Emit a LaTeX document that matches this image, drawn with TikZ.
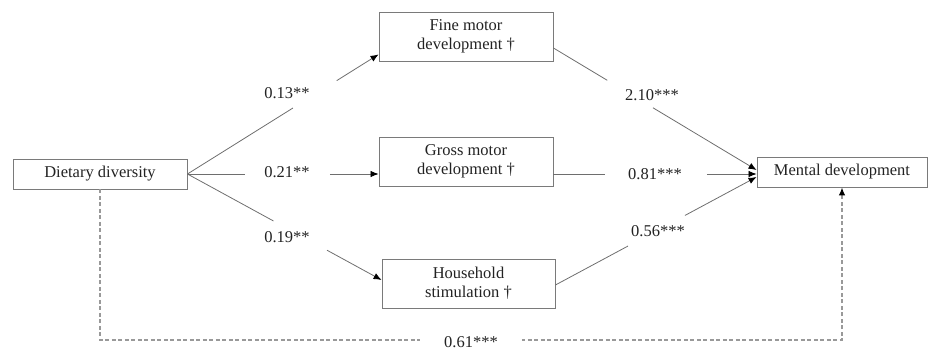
\documentclass[tikz,border=0pt]{standalone}
\usepackage{fontspec}
\setmainfont{Liberation Serif}
\usetikzlibrary{arrows.meta}
\definecolor{linegray}{HTML}{6E6E6E}
\definecolor{boxgray}{HTML}{7A7A7A}
\definecolor{dashgray}{HTML}{999999}
\definecolor{inkgray}{HTML}{222222}
\begin{document}
\begin{tikzpicture}[x=1pt,y=-1pt,
		font=\fontsize{16.5}{19}\selectfont, text=inkgray,
		varbox/.style={draw=boxgray, line width=0.9pt, minimum width=174pt, align=center, inner sep=2pt},
		link/.style={draw=linegray, line width=0.8pt},
		arrowlink/.style={link, -{Latex[length=8pt,width=6.5pt,color=black]}},
		dashlink/.style={draw=dashgray, line width=1.1pt, dash pattern=on 4pt off 2.5pt},
		coef/.style={inner sep=1pt}]
	\useasboundingbox (0,0) rectangle (940,350);
	% variables
	\node[varbox, minimum height=30pt] (diet) at (100,174) {Dietary diversity};
	\node[varbox, minimum height=49pt] (fine) at (466,36.5) {Fine motor\\development †};
	\node[varbox, minimum height=49pt] (gross) at (466,161.5) {Gross motor\\development †};
	\node[varbox, minimum height=49pt, minimum width=173pt] (stim) at (468.5,283.5) {Household\\stimulation †};
	\node[varbox, minimum height=30pt, minimum width=170pt] (mental) at (842,172) {Mental development};
	% gaps left open for the coefficients
	\path (diet.east) -- coordinate[pos=.552] (a1) coordinate[pos=.781] (a2) ([yshift=7pt]fine.south west);
	\path (diet.east) -- coordinate[pos=.302] (b1) coordinate[pos=.745] (b2) (gross.west |- diet.east);
	\path (diet.east) -- coordinate[pos=.443] (c1) coordinate[pos=.719] (c2) ([yshift=3.5pt]stim.west);
	\path ([yshift=-11.5pt]fine.east) -- coordinate[pos=.265] (d1) coordinate[pos=.49] (d2) ([yshift=2pt]mental.west);
	\path (gross.east |- diet.east) -- coordinate[pos=.255] (e1) coordinate[pos=.755] (e2) (mental.west |- diet.east);
	\path ([yshift=-1.5pt]stim.east) -- coordinate[pos=.361] (f1) coordinate[pos=.644] (f2) ([yshift=-5pt]mental.west);
	% paths
	\draw[link] (diet.east) -- (a1);
	\draw[arrowlink] (a2) -- ([yshift=7pt]fine.south west);
	\draw[link] (diet.east) -- (b1);
	\draw[arrowlink] (b2) -- (gross.west |- diet.east);
	\draw[link] (diet.east) -- (c1);
	\draw[arrowlink] (c2) -- ([yshift=3.5pt]stim.west);
	\draw[link] ([yshift=-11.5pt]fine.east) -- (d1);
	\draw[arrowlink] (d2) -- ([yshift=2pt]mental.west);
	\draw[link] (gross.east |- diet.east) -- (e1);
	\draw[arrowlink] (e2) -- (mental.west |- diet.east);
	\draw[link] ([yshift=-1.5pt]stim.east) -- (f1);
	\draw[arrowlink] (f2) -- ([yshift=-5pt]mental.west);
	% direct effect
	\coordinate (base) at (0,340);
	\draw[dashlink, -{Latex[length=8pt,width=6.5pt,color=black]}] (diet.south) -- (diet.south |- base)
		-- node[coef, fill=white, inner xsep=24pt, yshift=-2pt] (c61) {0.61***} (mental.south |- base) -- (mental.south);
	% coefficients
	\node[coef] (c13) at (287,93) {0.13**};
	\node[coef] (c21) at (287,172) {0.21**};
	\node[coef] (c19) at (287,237) {0.19**};
	\node[coef] (c210) at (652,95) {2.10***};
	\node[coef] (c81) at (655,174) {0.81***};
	\node[coef] (c56) at (658,231) {0.56***};
\end{tikzpicture}
\end{document}
